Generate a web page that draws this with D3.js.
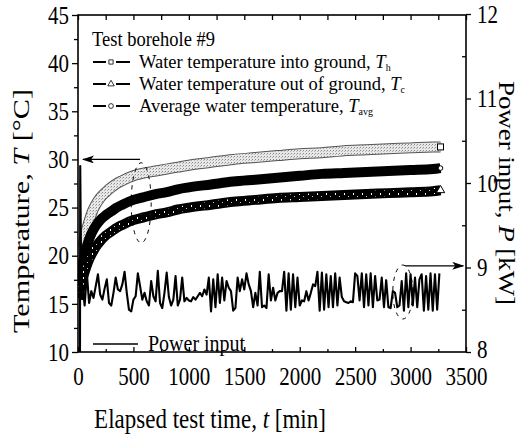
<!DOCTYPE html>
<html>
<head>
<meta charset="utf-8">
<script src="https://cdn.jsdelivr.net/npm/d3@7"></script>
<style>
body { margin: 0; background: #fff; }
svg { font-family: "Liberation Serif", "Times New Roman", serif; }
.vs { transform-box: fill-box; transform-origin: 50% 50%; transform: scaleY(1.2); }
.vl { transform-box: fill-box; transform-origin: 50% 50%; transform: scaleY(1.08); }
</style>
</head>
<body>
<div id="chart"></div>
<script>
// temperature record (time in min, T in degC)
var timeT = [0, 10, 20, 40, 60, 80, 100, 130, 160, 200, 250, 300, 350, 400, 500, 600, 700, 800, 900, 1000,
             1200, 1400, 1600, 1800, 2000, 2200, 2400, 2600, 2800, 3000, 3200, 3270];
var tempIn  = [16.0, 17.5, 18.8, 20.5, 21.8, 22.8, 23.6, 24.6, 25.3, 26.0, 26.6, 27.1, 27.5, 27.8, 28.3, 28.6, 28.8, 29.0, 29.2, 29.4,
               29.7, 30.0, 30.2, 30.4, 30.6, 30.7, 30.9, 31.0, 31.1, 31.2, 31.3, 31.3];
var tempAvg = [15.8, 16.8, 17.7, 19.0, 20.1, 21.0, 21.7, 22.5, 23.1, 23.7, 24.2, 24.6, 25.0, 25.3, 25.8, 26.1, 26.4, 26.6, 26.9, 27.1,
               27.4, 27.7, 27.9, 28.1, 28.3, 28.5, 28.6, 28.7, 28.8, 28.9, 29.0, 29.1];
var tempOut = [15.5, 16.0, 16.6, 17.5, 18.3, 19.0, 19.6, 20.3, 20.9, 21.5, 22.1, 22.5, 22.9, 23.2, 23.7, 24.0, 24.3, 24.5, 24.8, 25.0,
               25.3, 25.6, 25.8, 26.0, 26.1, 26.2, 26.3, 26.4, 26.5, 26.6, 26.7, 26.8];

// power input (kW): start-up points, then a sample every 20 min from t = 40
var powerHeadT = [0, 18, 20, 30];
var powerHeadP = [7.9, 7.9, 10.2, 8.7];
var powerT0 = 40, powerStep = 20;
var power = [
  8.80, 8.55, 8.93, 8.58, 8.72, 8.64, 8.78, 8.92, 8.68, 8.62,
  8.75, 8.86, 8.58, 8.55, 8.70, 8.88, 8.74, 8.72, 8.80, 8.95,
  8.70, 8.50, 8.48, 8.62, 8.66, 8.93, 8.78, 8.62, 8.70, 8.60,
  8.55, 8.84, 8.66, 8.60, 8.96, 8.58, 8.52, 8.70, 8.94, 8.65,
  8.55, 8.62, 8.90, 8.55, 8.62, 8.88, 8.60, 8.64, 8.61, 8.60,
  8.65, 8.62, 8.66, 8.70, 8.66, 8.74, 8.68, 8.88, 8.48, 8.86,
  8.53, 8.92, 8.58, 8.88, 8.61, 8.84, 8.76, 8.72, 8.49, 8.52,
  8.88, 8.72, 8.86, 8.74, 8.93, 8.80, 8.72, 8.53, 8.70, 8.55,
  8.95, 8.53, 8.55, 8.52, 8.92, 8.61, 8.76, 8.61, 8.70, 8.72,
  8.72, 8.95, 8.49, 8.93, 8.50, 8.92, 8.53, 8.88, 8.55, 8.61,
  8.60, 8.72, 8.61, 8.70, 8.80, 8.78, 8.95, 8.49, 8.94, 8.50,
  8.92, 8.53, 8.90, 8.53, 8.93, 8.55, 8.88, 8.65, 8.60, 8.59,
  8.58, 8.60, 8.59, 8.93, 8.90, 8.61, 8.93, 8.53, 8.92, 8.55,
  8.93, 8.53, 8.90, 8.61, 8.62, 8.88, 8.53, 8.85, 8.53, 8.52,
  8.72, 8.70, 8.53, 8.55, 8.84, 8.49, 8.93, 8.53, 8.92, 8.55,
  8.88, 8.53, 8.86, 8.92, 8.49, 8.90, 8.50, 8.93, 8.49, 8.92,
  8.50, 8.93
];

// ticks
var xTicks = [0, 500, 1000, 1500, 2000, 2500, 3000, 3500];
var xMinor = [250, 750, 1250, 1750, 2250, 2750, 3250];
var tTicks = [10, 15, 20, 25, 30, 35, 40, 45];
var tMinor = [12.5, 17.5, 22.5, 27.5, 32.5, 37.5, 42.5];
var pTicks = [8, 9, 10, 11, 12];
var pMinor = [8.5, 9.5, 10.5, 11.5];

var legendNames = ["Water temperature into ground, ", "Water temperature out of ground, ", "Average water temperature, "];
var legendSubs = ["h", "c", "avg"];

var W = 523, H = 438;
var mLeft = 78, mRight = 466, mTop = 15, mBottom = 352;

var svg = d3.select('#chart').append('svg')
  .attr('width', W)
  .attr('height', H);

var x = d3.scaleLinear().domain([0, 3500]).range([mLeft, mRight]);
var yT = d3.scaleLinear().domain([10, 45]).range([mBottom, mTop]);
var yP = d3.scaleLinear().domain([8, 12]).range([mBottom, mTop - 1]);

var defs = svg.append('defs');
defs.append('clipPath').attr('id', 'plotclip')
  .append('rect').attr('x', mLeft).attr('y', mTop).attr('width', mRight - mLeft).attr('height', mBottom - mTop);

// stipple used for the light grey band (dense open squares in the original)
var pg = defs.append('pattern').attr('id', 'greyDots')
  .attr('patternUnits', 'userSpaceOnUse').attr('width', 3).attr('height', 3);
pg.append('rect').attr('width', 3).attr('height', 3).attr('fill', '#e8e8e8');
pg.append('rect').attr('width', 1).attr('height', 1).attr('fill', '#8a8a8a');
pg.append('rect').attr('x', 2).attr('y', 1).attr('width', 1).attr('height', 1).attr('fill', '#b4b4b4');

// dark band with a few white specks (open triangles)
var pd = defs.append('pattern').attr('id', 'darkSpeck')
  .attr('patternUnits', 'userSpaceOnUse').attr('width', 9).attr('height', 6);
pd.append('rect').attr('width', 9).attr('height', 6).attr('fill', '#000');
pd.append('rect').attr('x', 2).attr('y', 1).attr('width', 1).attr('height', 2).attr('fill', '#fff');
pd.append('rect').attr('x', 6).attr('y', 4).attr('width', 1).attr('height', 1).attr('fill', '#ccc');

defs.append('marker').attr('id', 'arrow')
  .attr('viewBox', '0 0 12 8').attr('refX', 11).attr('refY', 4)
  .attr('markerWidth', 12).attr('markerHeight', 8).attr('markerUnits', 'userSpaceOnUse')
  .attr('orient', 'auto')
  .append('path').attr('d', 'M0,0 L12,4 L0,8 L3,4 Z').attr('fill', '#000');

var plot = svg.append('g').attr('clip-path', 'url(#plotclip)');

var lineT = d3.line().curve(d3.curveMonotoneX)
  .x(function(d) { return x(d[0]); })
  .y(function(d) { return yT(d[1]); });

function pairs(ts, vs) { return ts.map(function(t, i) { return [t, vs[i]]; }); }

var dIn = pairs(timeT, tempIn), dAvg = pairs(timeT, tempAvg), dOut = pairs(timeT, tempOut);

// grey band (into ground)
plot.append('path').attr('d', lineT(dIn)).attr('fill', 'none').attr('stroke', '#555').attr('stroke-width', 11);
plot.append('path').attr('d', lineT(dIn)).attr('fill', 'none').attr('stroke', 'url(#greyDots)').attr('stroke-width', 9);
// black band (average)
plot.append('path').attr('d', lineT(dAvg)).attr('fill', 'none').attr('stroke', '#000').attr('stroke-width', 10);
// dark band (out of ground)
plot.append('path').attr('d', lineT(dOut)).attr('fill', 'none').attr('stroke', '#000').attr('stroke-width', 10);
plot.append('path').attr('d', lineT(dOut)).attr('fill', 'none').attr('stroke', 'url(#darkSpeck)').attr('stroke-width', 6);

// open end markers
var lastIn = dIn[dIn.length - 1], lastAvg = dAvg[dAvg.length - 1], lastOut = dOut[dOut.length - 1];
svg.append('rect').attr('x', x(lastIn[0]) - 3).attr('y', yT(lastIn[1]) - 3).attr('width', 6).attr('height', 6)
  .attr('fill', '#fff').attr('stroke', '#000').attr('stroke-width', 1);
svg.append('circle').attr('cx', x(lastAvg[0])).attr('cy', yT(lastAvg[1])).attr('r', 2.3)
  .attr('fill', '#fff').attr('stroke', '#000').attr('stroke-width', 1);
svg.append('path').attr('d', d3.symbol(d3.symbolTriangle, 30)())
  .attr('transform', 'translate(' + x(lastOut[0]) + ',' + yT(lastOut[1]) + ')')
  .attr('fill', '#fff').attr('stroke', '#000').attr('stroke-width', 1);

// power input trace
var powerData = pairs(powerHeadT, powerHeadP)
  .concat(power.map(function(p, i) { return [powerT0 + i * powerStep, p]; }));
plot.append('path')
  .attr('d', d3.line().x(function(d) { return x(d[0]); }).y(function(d) { return yP(d[1]); })(powerData))
  .attr('fill', 'none').attr('stroke', '#000').attr('stroke-width', 2.1).attr('stroke-linejoin', 'round');

// dashed ellipses + arrows
svg.append('ellipse').attr('cx', x(570)).attr('cy', yT(25.5)).attr('rx', 10).attr('ry', 40)
  .attr('fill', 'none').attr('stroke', '#000').attr('stroke-width', 1).attr('stroke-dasharray', '4,5');
svg.append('line').attr('x1', x(560)).attr('y1', yT(30)).attr('x2', x(45)).attr('y2', yT(30))
  .attr('stroke', '#000').attr('stroke-width', 1.3).attr('marker-end', 'url(#arrow)');
svg.append('ellipse').attr('cx', x(2930)).attr('cy', yP(8.71)).attr('rx', 10).attr('ry', 27)
  .attr('fill', 'none').attr('stroke', '#000').attr('stroke-width', 1).attr('stroke-dasharray', '4,5');
svg.append('line').attr('x1', x(2950)).attr('y1', yP(9.02)).attr('x2', x(3475)).attr('y2', yP(9.02))
  .attr('stroke', '#000').attr('stroke-width', 1.3).attr('marker-end', 'url(#arrow)');

// frame
svg.append('rect').attr('x', mLeft).attr('y', mTop).attr('width', mRight - mLeft).attr('height', mBottom - mTop)
  .attr('fill', 'none').attr('stroke', '#000').attr('stroke-width', 1.6);

function styleAxis(g) {
  g.select('.domain').remove();
  g.attr('font-family', null);
  g.selectAll('line').attr('stroke', '#000').attr('stroke-width', 1.3);
  g.selectAll('text').attr('class', 'vs').attr('fill', '#000');
}

// left axis: ticks outward
svg.append('g').attr('transform', 'translate(' + mLeft + ',0)')
  .call(d3.axisLeft(yT).tickValues(tTicks).tickSize(6).tickPadding(3).tickFormat(d3.format('d')))
  .call(styleAxis)
  .attr('font-size', 21);
svg.append('g').attr('transform', 'translate(' + mLeft + ',0)')
  .call(d3.axisLeft(yT).tickValues(tMinor).tickSize(4).tickFormat(''))
  .call(styleAxis);

// bottom axis: ticks inward
svg.append('g').attr('transform', 'translate(0,' + mBottom + ')')
  .call(d3.axisBottom(x).tickValues(xTicks).tickSize(-5).tickPadding(17).tickFormat(d3.format('d')))
  .call(styleAxis)
  .attr('font-size', 21);
svg.append('g').attr('transform', 'translate(0,' + mBottom + ')')
  .call(d3.axisBottom(x).tickValues(xMinor).tickSize(-3).tickFormat(''))
  .call(styleAxis);

// top axis: ticks only
svg.append('g').attr('transform', 'translate(0,' + mTop + ')')
  .call(d3.axisTop(x).tickValues(xTicks.concat(xMinor)).tickSize(-5).tickFormat(''))
  .call(styleAxis);

// right axis (power)
svg.append('g').attr('transform', 'translate(' + mRight + ',0)')
  .call(d3.axisRight(yP).tickValues(pTicks).tickSize(5).tickPadding(6).tickFormat(d3.format('d')))
  .call(styleAxis)
  .attr('font-size', 21);
svg.append('g').attr('transform', 'translate(' + mRight + ',0)')
  .call(d3.axisRight(yP).tickValues(pMinor).tickSize(-4).tickFormat(''))
  .call(styleAxis);
// the lowest power label sits just above "3500" in the original; keep it a touch higher
svg.selectAll('text.vs').filter(function(d) { return d === 8; }).attr('dy', '0.2em');

// axis titles
svg.append('text').attr('class', 'vs')
  .attr('x', 210).attr('y', 426).attr('text-anchor', 'middle').attr('font-size', 23)
  .html('Elapsed test time, <tspan font-style="italic">t</tspan> [min]');

svg.append('text')
  .attr('transform', 'translate(29,211) rotate(-90) scale(1.26,1)')
  .attr('text-anchor', 'middle').attr('font-size', 24)
  .html('Temperature, <tspan font-style="italic">T</tspan> [\u00B0C]');

svg.append('text')
  .attr('transform', 'translate(499,193) rotate(90) scale(1.17,1)')
  .attr('text-anchor', 'middle').attr('font-size', 23)
  .html('Power input, <tspan font-style="italic">P</tspan> [kW]');

// legend
var leg = svg.append('g').attr('font-size', 18.5);
leg.append('text').attr('class', 'vl').attr('x', 92).attr('y', 46).text('Test borehole #9');

var rowY = [62, 84, 106];
var symbols = ['square', 'triangle', 'circle'];
rowY.forEach(function(yy, i) {
  leg.append('line').attr('x1', 93).attr('x2', 106).attr('y1', yy).attr('y2', yy).attr('stroke', '#000').attr('stroke-width', 2);
  leg.append('line').attr('x1', 116).attr('x2', 130).attr('y1', yy).attr('y2', yy).attr('stroke', '#000').attr('stroke-width', 2);
  var sym = symbols[i] === 'square' ? d3.symbolSquare : (symbols[i] === 'triangle' ? d3.symbolTriangle : d3.symbolCircle);
  leg.append('path').attr('d', d3.symbol(sym, 18)())
    .attr('transform', 'translate(111,' + yy + ')')
    .attr('fill', '#fff').attr('stroke', '#000').attr('stroke-width', 0.8);
  var t = leg.append('text').attr('x', 139).attr('y', yy + 6);
  t.append('tspan').text(legendNames[i]);
  t.append('tspan').attr('font-style', 'italic').text('T');
  t.append('tspan').attr('font-size', 10).attr('dy', 3).text(legendSubs[i]);
});

leg.append('line').attr('x1', 93).attr('x2', 138).attr('y1', 344).attr('y2', 344).attr('stroke', '#000').attr('stroke-width', 1.5);
leg.append('text').attr('class', 'vs').attr('x', 148).attr('y', 350).attr('font-size', 20).text('Power input');
</script>
</body>
</html>
